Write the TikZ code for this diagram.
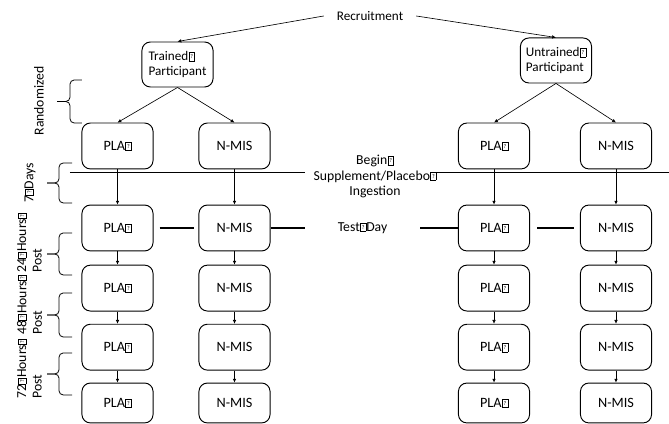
\documentclass[tikz,border=0pt]{standalone}
\usepackage{fontspec}
\setmainfont{Carlito}
\usetikzlibrary{arrows.meta,calc}

% box glyph that the figure shows in place of missing characters
\newcommand{\missbox}{{\setlength{\fboxsep}{0pt}\setlength{\fboxrule}{0.4pt}%
  \kern0.3pt\fbox{\makebox[5pt]{\rule{0pt}{7.6pt}\raisebox{1.8pt}{\fontsize{5.5}{5.5}\selectfont ?}}}}}

\begin{document}
\begin{tikzpicture}[scale=1.0, >={Latex[length=3.6pt,width=3.4pt]},
  box/.style={draw, line width=0.9pt, rounded corners=8pt, minimum width=2.37cm,
    minimum height=1.53cm, font=\fontsize{13.5}{15}\selectfont},
  arm/.style={->, line width=0.6pt},
  sepline/.style={line width=1.3pt},
  grpbrace/.style={line width=0.75pt, rounded corners=4pt},
  note/.style={font=\fontsize{13}{14.7}\selectfont}]
  \useasboundingbox (0,0) rectangle (22.3,14.133);

  % ---------------- recruitment ----------------
  \node[note, font=\fontsize{12.5}{14.7}\selectfont, inner xsep=0.43cm] (recruit) at (12.333,13.6) {Recruitment};
  \node[box, minimum height=1.5cm, align=left, font=\fontsize{12.5}{14.2}\selectfont]
    (trained) at (5.917,11.983) {Trained\missbox\\Participant};
  \node[box, minimum height=1.5cm, align=left, font=\fontsize{12.5}{14.2}\selectfont]
    (untrained) at (18.533,12.117) {Untrained\missbox\\Participant};
  \draw[arm] (recruit.west) -- (trained.north);
  \draw[arm] (recruit.east) -- (untrained.north);

  % ---------------- groups ----------------
  \foreach \r/\y in {1/9.267, 2/6.533, 3/4.53, 4/2.56} {
    \node[box] (plaL\r) at (3.917,\y) {PLA\missbox};
    \node[box] (nmisL\r) at (7.817,\y) {N-MIS};
    \node[box] (plaR\r) at (16.467,\y) {PLA\missbox};
    \node[box] (nmisR\r) at (20.533,\y) {N-MIS};
  }
  % last row is a little shorter
  \foreach \c/\x/\txt in {plaL/3.917/PLA\missbox, nmisL/7.817/N-MIS, plaR/16.467/PLA\missbox, nmisR/20.533/N-MIS}
    \node[box, minimum height=1.33cm] (\c5) at (\x,0.7) {\txt};

  \draw[arm] (trained.south) -- (plaL1.north);
  \draw[arm] (trained.south) -- (nmisL1.north);
  \draw[arm] (untrained.south) -- (plaR1.north);
  \draw[arm] (untrained.south) -- (nmisR1.north);

  \foreach \c in {plaL, nmisL, plaR, nmisR}
    \foreach \r [remember=\r as \p (initially 1)] in {2,...,5}
      \draw[arm] (\c\p.south) -- (\c\r.north);

  % ---------------- phases ----------------
  \node[note, align=center, inner xsep=0pt] (supp) at (12.5,8.25)
    {Begin\missbox\\Supplement/Placebo\missbox\\Ingestion};
  \node[note, minimum width=3.833cm, inner xsep=0pt] (testday) at (12.083,6.533) {Test\missbox Day};
  \coordinate (suppL) at (2.333,8.383);
  \coordinate (suppR) at (22.3,8.383);
  \draw[sepline] (suppL) -- (suppL -| testday.west);
  \draw[sepline] (supp.east |- suppL) -- (suppR);

  \draw[sepline, shorten <=0.2cm, shorten >=0.133cm] (plaL2.east) -- (nmisL2.west);
  \draw[sepline] (nmisL2.east) -- (testday.west);
  \draw[sepline] (testday.east) -- (plaR2.west);
  \draw[sepline, shorten <=0.233cm, shorten >=0.183cm] (plaR2.east) -- (nmisR2.west);

  % ---------------- time braces ----------------
  % tail x / spine x / tip x, bottom / top
  \foreach \xa/\xb/\xc/\lo/\hi in {2.733/2.333/1.9/10.033/11.467, 2.4/1.967/1.567/7.367/8.7,
      2.4/1.967/1.567/4.967/6.367, 2.4/1.967/1.567/2.9/4.367, 2.4/1.967/1.567/0.967/2.367} {
    \pgfmathsetmacro\ym{(\lo+\hi)/2}
    \draw[grpbrace] (\xa,\hi) -- (\xb,\hi) -- (\xb,\ym) -- (\xc,\ym);
    \draw[grpbrace] (\xa,\lo) -- (\xb,\lo) -- (\xb,\ym) -- (\xc,\ym);
  }

  \node[note, rotate=90] (lblRand) at (1.3,10.767) {Randomized};
  \node[note, rotate=90] (lblDays) at (1.0,8.033) {7\missbox Days};
  \node[note, rotate=90, anchor=west, align=left] (lbl24) at (0.983,4.933) {24\missbox Hours\missbox\\Post};
  \node[note, rotate=90, anchor=west, align=left] (lbl48) at (0.983,2.867) {48\missbox Hours\missbox\\Post};
  \node[note, rotate=90, anchor=west, align=left] (lbl72) at (0.983,0.733) {72\missbox Hours\missbox\\Post};
\end{tikzpicture}
\end{document}
